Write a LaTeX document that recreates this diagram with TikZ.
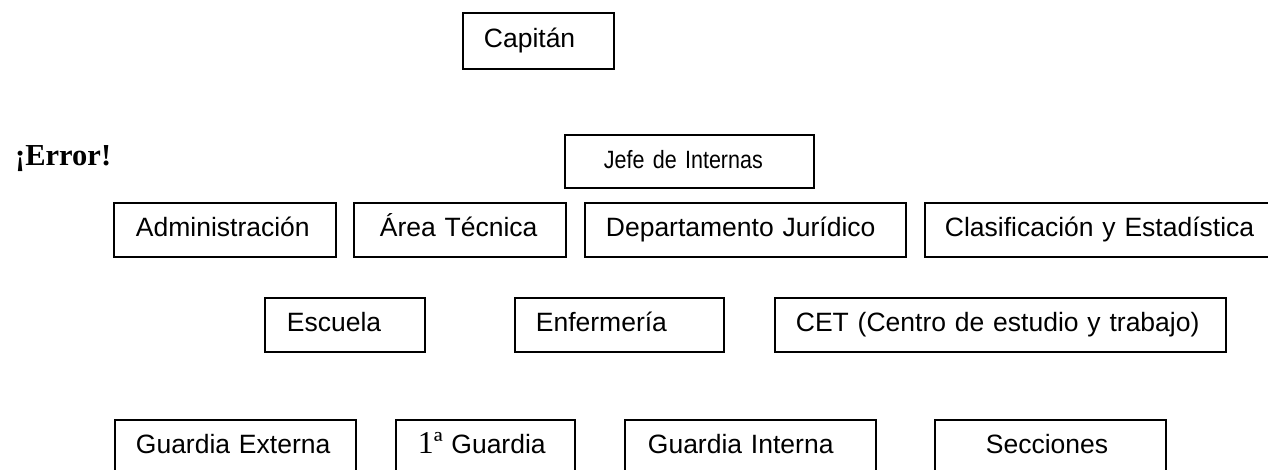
\documentclass[tikz,border=0pt]{standalone}
\usepackage{fontspec}
\setmainfont{Liberation Sans}
\newfontfamily\timesf{Liberation Serif}
\newfontfamily\narrowf[FakeStretch=0.86]{Liberation Sans}
\begin{document}
\begin{tikzpicture}[x=1pt,y=-1pt,
  box/.style={draw=black, line width=1.8pt, anchor=north west, inner ysep=0pt,
    align=left, text height=19pt, text depth=5pt, minimum height=54pt,
    font=\fontsize{26.5}{30}\selectfont}]
\clip (0,0) rectangle (1268,469);
\useasboundingbox (0,0) rectangle (1268,469);
\fill[white] (0,0) rectangle (1268,469);
% top
\node[box, minimum height=56pt, inner xsep=21pt, text width=109pt] (cap) at (462,12) {Capitán};
\node[anchor=base west, inner sep=0pt, font=\timesf\bfseries\fontsize{30.5}{34}\selectfont] (err) at (15,165) {¡Error!};
\node[box, minimum height=53pt, inner xsep=39pt, text width=171pt, font=\narrowf\fontsize{25}{30}\selectfont] (jefe) at (564,134) {Jefe de Internas};
% row 1
\node[box, inner xsep=22pt, text width=178pt] (adm) at (113,202) {Administración};
\node[box, inner xsep=26pt, text width=160pt] (area) at (353,202) {Área Técnica};
\node[box, inner xsep=21pt, text width=279pt] (dept) at (584,202) {Departamento Jurídico};
\node[box, inner xsep=20pt, text width=320pt] (clas) at (924,202) {Clasificación y Estadística};
% row 2
\node[box, inner xsep=22pt, text width=116pt] (esc) at (264,297) {Escuela};
\node[box, inner xsep=21pt, text width=167pt] (enf) at (514,297) {Enfermería};
\node[box, inner xsep=21pt, text width=409pt] (cet) at (774,297) {CET (Centro de estudio y trabajo)};
% row 3
\node[box, inner xsep=21pt, text width=199pt] (gext) at (114,419) {Guardia Externa};
\node[box, inner xsep=22pt, text width=135pt] (gpri) at (395,419) {{\timesf\fontsize{31.8}{34}\selectfont 1ª} Guardia};
\node[box, inner xsep=23pt, text width=205pt] (gint) at (624,419) {Guardia Interna};
\node[box, inner xsep=51pt, text width=129pt] (secc) at (934,419) {Secciones};
\end{tikzpicture}
\end{document}
